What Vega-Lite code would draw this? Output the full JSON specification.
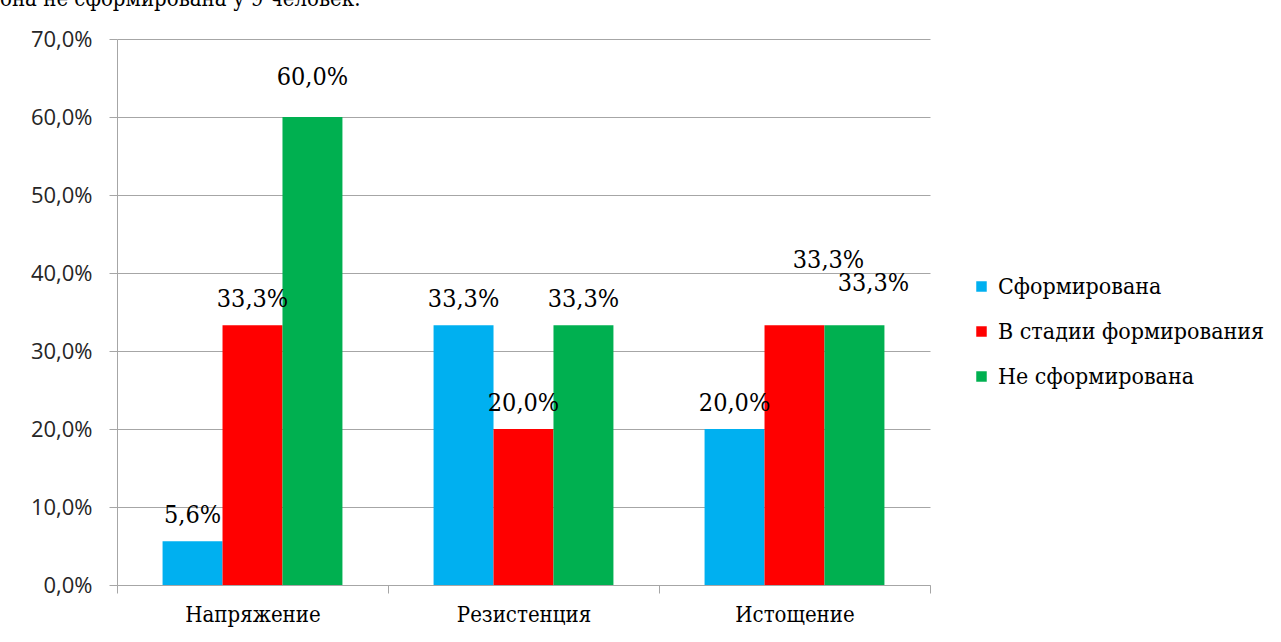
{
  "$schema": "https://vega.github.io/schema/vega-lite/v6.json",
  "autosize": {"type": "none"},
  "width": 813,
  "height": 546,
  "padding": {"left": 117, "top": 39, "right": 351, "bottom": 57},
  "background": "white",
  "config": {
    "locale": {"number": {"decimal": ",", "thousands": " ", "grouping": [3], "currency": ["", ""]}},
    "view": {"stroke": null}
  },
  "title": {
    "text": "она не сформирована у 9 человек.",
    "anchor": "start",
    "frame": "group",
    "dx": -117,
    "font": "DejaVu Serif Condensed",
    "fontSize": 22,
    "fontWeight": "normal",
    "color": "black",
    "baseline": "alphabetic",
    "offset": 0
  },
  "data": {
    "values": [
      {"stage": "Напряжение", "status": "Сформирована", "value": 0.056},
      {"stage": "Напряжение", "status": "В стадии формирования", "value": 0.333},
      {"stage": "Напряжение", "status": "Не сформирована", "value": 0.6},
      {"stage": "Резистенция", "status": "Сформирована", "value": 0.333},
      {"stage": "Резистенция", "status": "В стадии формирования", "value": 0.2},
      {"stage": "Резистенция", "status": "Не сформирована", "value": 0.333},
      {"stage": "Истощение", "status": "Сформирована", "value": 0.2},
      {"stage": "Истощение", "status": "В стадии формирования", "value": 0.333},
      {"stage": "Истощение", "status": "Не сформирована", "value": 0.333}
    ]
  },
  "encoding": {
    "x": {
      "field": "stage",
      "type": "nominal",
      "sort": ["Напряжение", "Резистенция", "Истощение"],
      "scale": {"paddingInner": 0, "paddingOuter": 0},
      "axis": {
        "title": null,
        "labelAngle": 0,
        "tickBand": "extent",
        "domainColor": "#A6A6A6",
        "tickColor": "#A6A6A6",
        "tickSize": 8,
        "labelFont": "DejaVu Serif Condensed",
        "labelFontSize": 22,
        "labelColor": "black",
        "labelPadding": 11
      }
    },
    "xOffset": {
      "field": "status",
      "type": "nominal",
      "sort": ["Сформирована", "В стадии формирования", "Не сформирована"],
      "scale": {"paddingInner": 0, "paddingOuter": 0.76}
    },
    "y": {
      "field": "value",
      "type": "quantitative",
      "scale": {"domain": [0, 0.7], "nice": false},
      "axis": {
        "title": null,
        "values": [0, 0.1, 0.2, 0.3, 0.4, 0.5, 0.6, 0.7],
        "format": ".1%",
        "gridColor": "#A6A6A6",
        "domainColor": "#A6A6A6",
        "tickColor": "#A6A6A6",
        "tickSize": 8,
        "labelFont": "Open Sans",
        "labelFontSize": 22,
        "labelColor": "#262626",
        "labelPadding": 17
      }
    }
  },
  "layer": [
    {
      "mark": {"type": "bar"},
      "encoding": {
        "color": {
          "field": "status",
          "type": "nominal",
          "sort": ["Сформирована", "В стадии формирования", "Не сформирована"],
          "scale": {
            "domain": ["Сформирована", "В стадии формирования", "Не сформирована"],
            "range": ["#00B0F0", "#FF0000", "#00B050"]
          },
          "legend": {
            "title": null,
            "orient": "none",
            "legendX": 853,
            "legendY": 236,
            "symbolType": "square",
            "symbolSize": 110,
            "symbolStrokeWidth": 0,
            "labelFont": "DejaVu Serif Condensed",
            "labelFontSize": 23,
            "labelColor": "black",
            "labelOffset": 5,
            "rowPadding": 21,
            "labelLimit": 400
          }
        }
      }
    },
    {
      "mark": {
        "type": "text",
        "baseline": "middle",
        "font": "DejaVu Serif Condensed",
        "fontSize": 25,
        "color": "black",
        "dx": {"expr": "datum.stage === 'Истощение' && datum.status === 'В стадии формирования' ? 34 : (datum.stage === 'Истощение' && datum.status === 'Не сформирована' ? 19 : 0)"},
        "dy": {"expr": "datum.stage === 'Истощение' && datum.status === 'В стадии формирования' ? -65 : (datum.stage === 'Истощение' && datum.status === 'Не сформирована' ? -42 : (datum.value > 0.5 ? -40 : -26))"}
      },
      "encoding": {
        "text": {"field": "value", "type": "quantitative", "format": ".1%"}
      }
    }
  ]
}
